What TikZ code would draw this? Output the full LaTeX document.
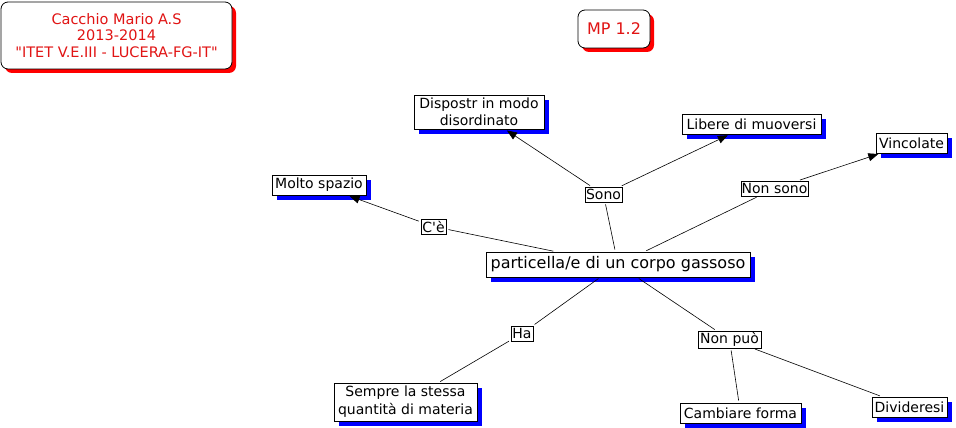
\documentclass[tikz,border=0pt]{standalone}
\usepackage{fontspec}
\setmainfont{DejaVu Sans}[Ligatures=TeXOff]
\usetikzlibrary{arrows.meta,shadows}
\definecolor{tred}{RGB}{225,20,20}
\begin{document}
\begin{tikzpicture}[x=1pt,y=-1pt,
  concept/.style={draw=black, line width=0.8pt, fill=white, inner sep=1pt, align=center,
    font=\fontsize{14}{16}\selectfont,
    general shadow={fill=blue, shadow xshift=5pt, shadow yshift=-5pt}},
  linkbox/.style={draw=black, line width=0.7pt, fill=white, inner sep=0.3pt,
    font=\fontsize{14}{15}\selectfont},
  titlebox/.style={draw=black, line width=0.8pt, fill=white, rounded corners=7pt, align=center,
    text=tred, general shadow={fill=red, shadow xshift=4pt, shadow yshift=-4pt}},
  conn/.style={draw=black, line width=0.6pt, shorten <=2pt, shorten >=2pt},
  arr/.style={conn, -{Triangle[length=10pt,width=8pt]}}
]
\useasboundingbox (0,0) rectangle (956,428);

\node[titlebox, minimum width=231pt, minimum height=67pt, font=\fontsize{14.5}{16.5}\selectfont] (title) at (116.5,35.5)
  {Cacchio Mario A.S\\2013-2014\\"ITET V.E.III - LUCERA-FG-IT"};
\node[titlebox, minimum width=72pt, minimum height=38pt, font=\fontsize{16}{18}\selectfont] (mp) at (614,29) {MP 1.2};

\node[concept, minimum width=130pt, minimum height=34pt, font=\fontsize{14}{17}\selectfont] (disp) at (479,112) {Dispostr in modo\\disordinato};
\node[concept, minimum width=139pt, minimum height=20pt] (lib) at (751.5,124) {Libere di muoversi};
\node[concept, minimum width=71pt, minimum height=20pt] (vinc) at (911.5,143) {Vincolate};
\node[concept, minimum width=94pt, minimum height=20pt] (molto) at (319,185) {Molto spazio};
\node[concept, minimum width=264pt, minimum height=25pt, font=\fontsize{16}{18}\selectfont] (part) at (618,264.5) {particella/e di un corpo gassoso};
\node[concept, minimum width=143pt, minimum height=38pt, font=\fontsize{14}{18}\selectfont] (sempre) at (405.5,402) {Sempre la stessa\\quantità di materia};
\node[concept, minimum width=121pt, minimum height=20pt] (camb) at (740.5,413) {Cambiare forma};
\node[concept, minimum width=75pt, minimum height=20pt] (divid) at (909.5,407) {Divideresi};

\node[linkbox, minimum width=37pt, minimum height=15pt] (sono) at (603.5,194.5) {Sono};
\node[linkbox, minimum width=25pt, minimum height=15pt] (ce) at (433.5,226.5) {C'è};
\node[linkbox, minimum width=67pt, minimum height=15pt] (nonsono) at (774.5,188.5) {Non sono};
\node[linkbox, minimum width=22pt, minimum height=15pt] (ha) at (522,333.5) {Ha};
\node[linkbox, minimum width=63pt, minimum height=17pt] (nonpuo) at (729.5,339.5) {Non può};

\draw[conn] (part) -- (sono);
\draw[arr] (sono) -- (disp);
\draw[arr] (sono) -- (lib);
\draw[conn] (part) -- (ce);
\draw[arr] (ce) -- (molto);
\draw[conn] (part) -- (nonsono);
\draw[arr] (nonsono) -- (vinc);
\draw[conn] (part) -- (ha);
\draw[conn] (ha) -- (sempre);
\draw[conn] (part) -- (nonpuo);
\draw[conn] (nonpuo) -- (camb);
\draw[conn] (nonpuo) -- (divid);
\end{tikzpicture}
\end{document}
